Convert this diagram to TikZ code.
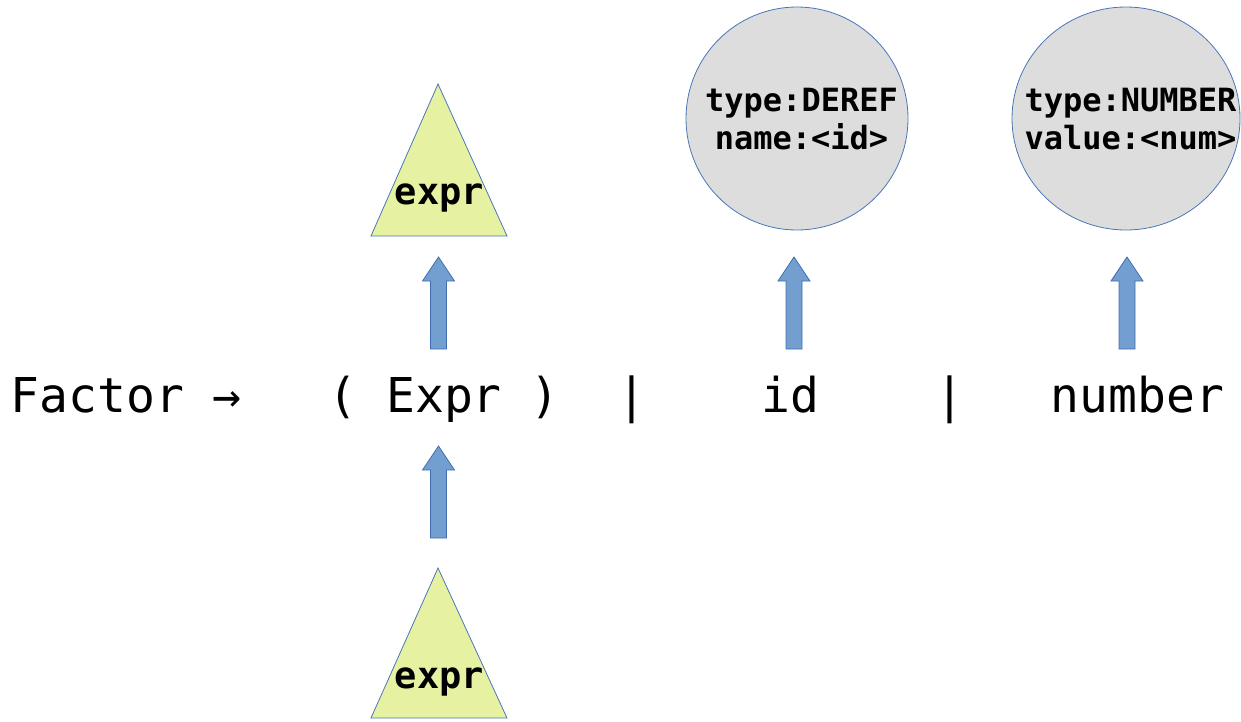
\documentclass[tikz,border=0pt]{standalone}
\usepackage{fontspec}
\setmonofont{DejaVu Sans Mono}
\usetikzlibrary{shapes.geometric}
\definecolor{trifill}{HTML}{E6F2A2}
\definecolor{outblue}{HTML}{4A76B8}
\definecolor{circfill}{HTML}{DDDDDD}
\definecolor{arrfill}{HTML}{729FCF}
\definecolor{arrline}{HTML}{3E6EB0}
\tikzset{
  tri/.style={fill=trifill, draw=outblue, line width=0.8pt, line join=miter},
  circ/.style={ellipse, fill=circfill, draw=outblue, line width=0.8pt, inner sep=0pt},
  maintext/.style={inner sep=0pt, anchor=base west, font=\ttfamily\fontsize{48}{58}\selectfont},
  lbl/.style={inner sep=0pt, anchor=base, font=\ttfamily\bfseries\fontsize{32}{38}\selectfont},
  exprlbl/.style={inner sep=0pt, anchor=base, font=\ttfamily\bfseries\fontsize{37}{44}\selectfont},
  blockup/.pic={\draw[fill=arrfill, draw=arrline, line width=0.8pt, line join=miter]
     (-8,0) -- (-8,-68) -- (-16,-68) -- (0,-92) -- (16,-68) -- (8,-68) -- (8,0) -- cycle;}
}
\begin{document}
\begin{tikzpicture}[x=1pt,y=-1pt]
\useasboundingbox (0,0) rectangle (1241,721);
% main production
\node[maintext] (rule) at (10.4,412) {Factor~→~~~(~Expr~)~~|~~~~id~~~~|~~~number};
% top triangle
\coordinate (t1) at (438,84);
\path[tri] (t1) -- (507,236) -- (371,236) -- cycle;
\node[exprlbl] (e1) at (439.5,204) {expr};
% bottom triangle
\coordinate (t2) at (438,568);
\path[tri] (t2) -- (507,718) -- (371,718) -- cycle;
\node[exprlbl] (e2) at (439.5,688) {expr};
% circles
\node[circ, minimum width=222pt, minimum height=223pt] (c1) at (797,118.5) {};
\node[lbl] (c1a) at (801.5,111) {type:DEREF};
\node[lbl] (c1b) at (801.5,149) {name:<id>};
\node[circ, minimum width=228pt, minimum height=223pt] (c2) at (1126,118.5) {};
\node[lbl] (c2a) at (1130.5,111) {type:NUMBER};
\node[lbl] (c2b) at (1130.5,149) {value:<num>};
% arrows
\pic at (438.5,349) {blockup};
\pic at (794,349) {blockup};
\pic at (1127,349) {blockup};
\pic at (438.5,538) {blockup};
\end{tikzpicture}
\end{document}
